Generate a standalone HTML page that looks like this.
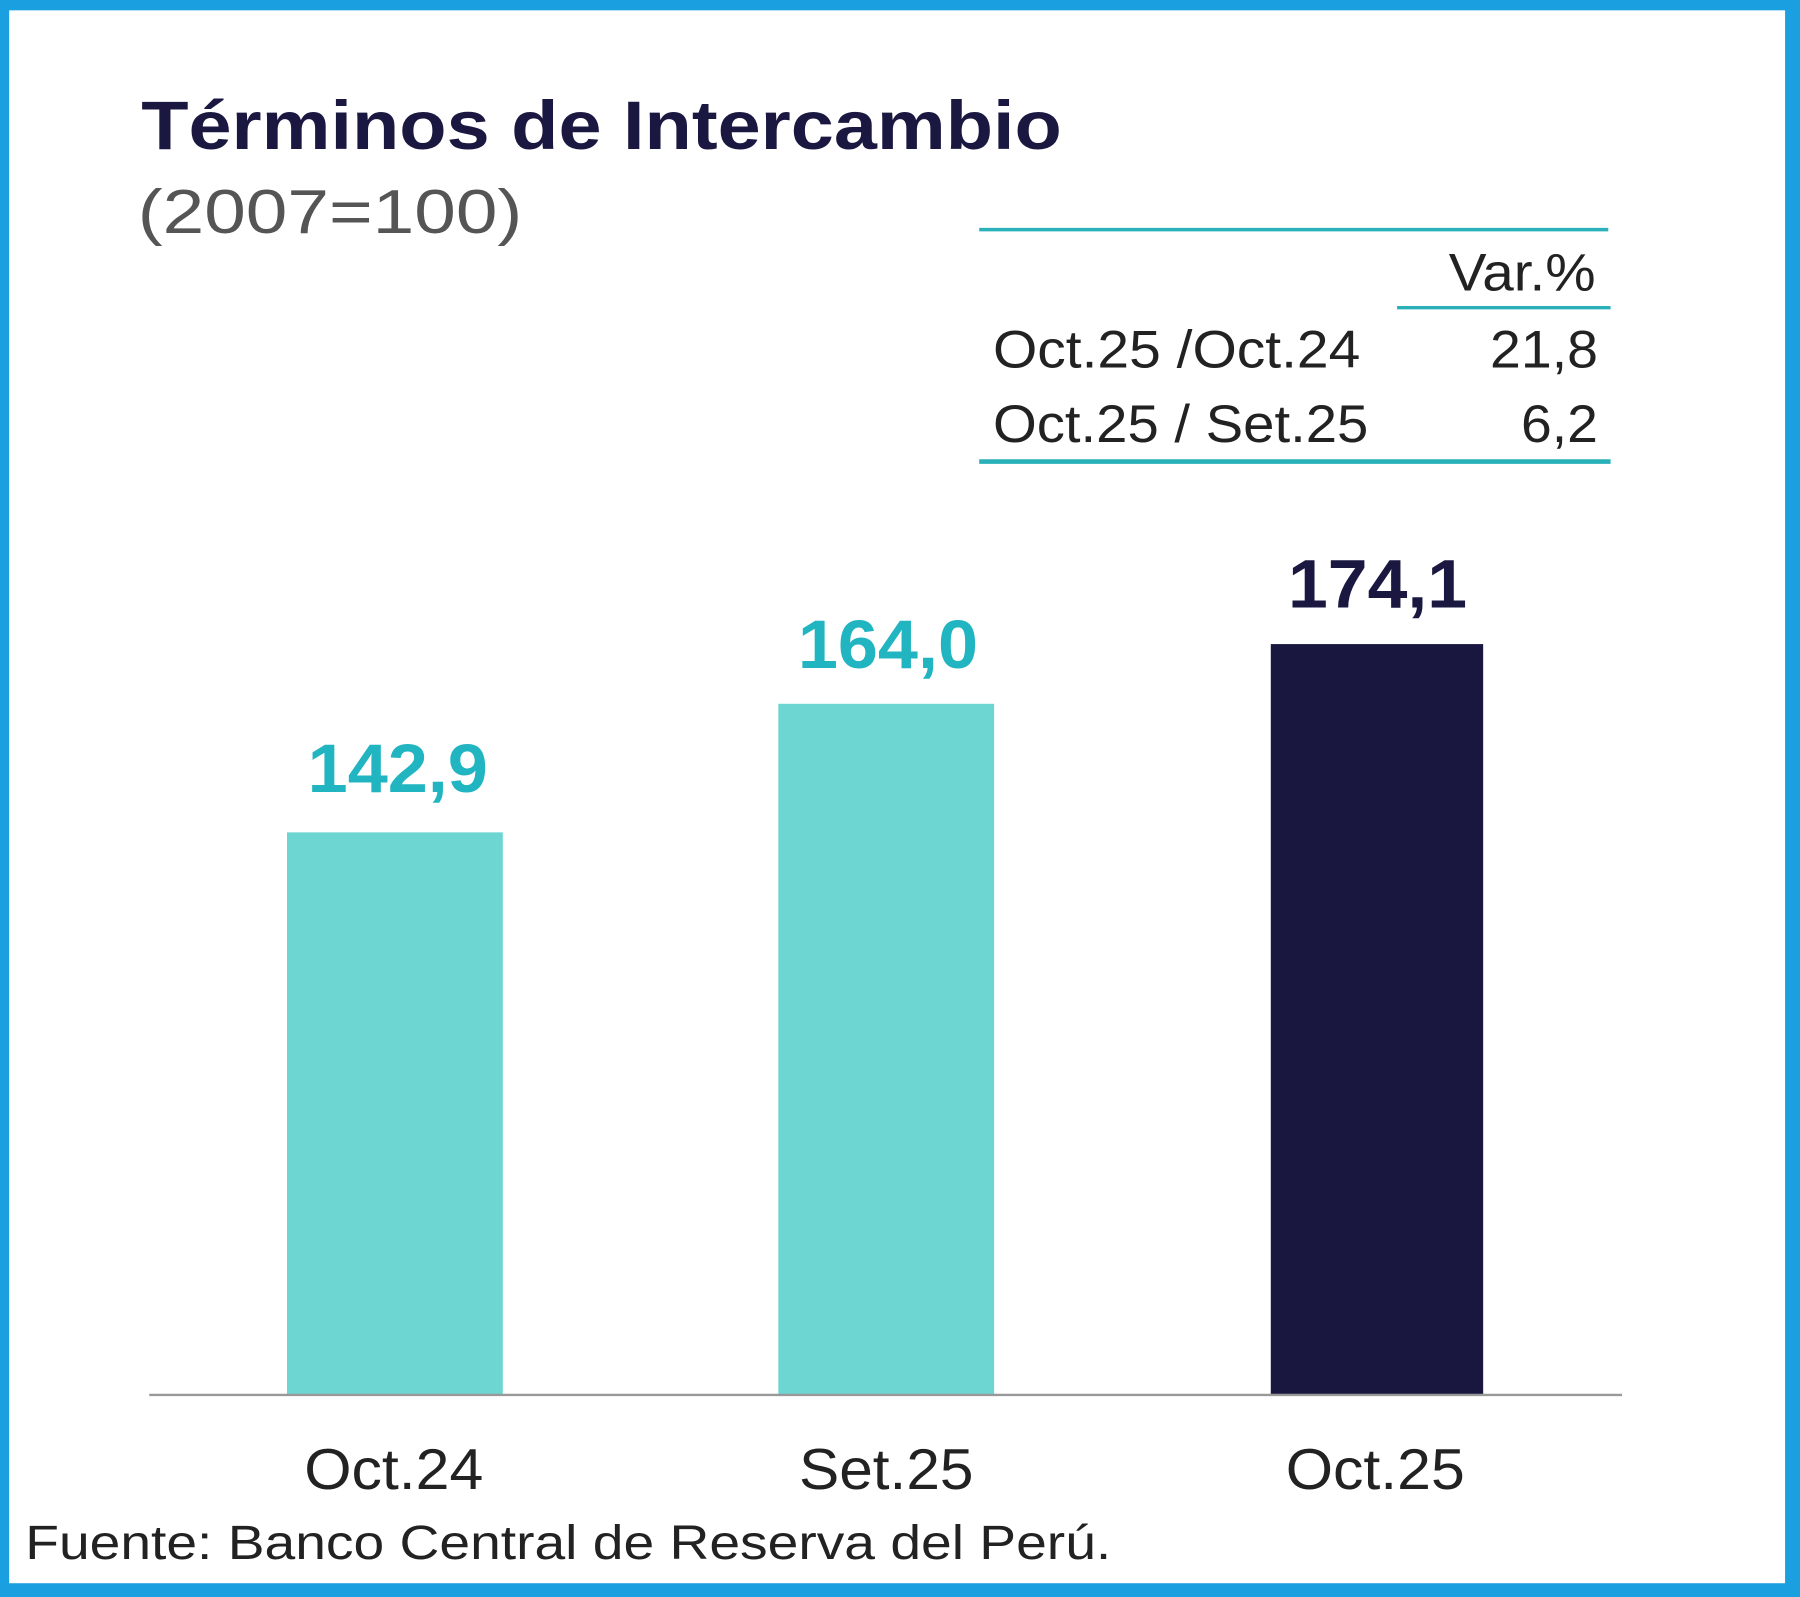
<!DOCTYPE html>
<html><head><meta charset="utf-8"><style>
html,body{margin:0;padding:0;background:#fff;}
svg{display:block;}
</style></head><body>
<svg width="1800" height="1597" viewBox="0 0 1568 1391" preserveAspectRatio="none" xmlns="http://www.w3.org/2000/svg">
<rect x="0" y="0" width="1568" height="1391" fill="#1a9fe0"/>
<rect x="8" y="9" width="1547" height="1370" fill="#ffffff"/>
<g font-family="Liberation Sans, Arial, sans-serif">
<text x="123" y="130" font-size="60" font-weight="bold" fill="#1a1840" textLength="802" lengthAdjust="spacingAndGlyphs">Términos de Intercambio</text>
<text x="120" y="203" font-size="54" fill="#555" textLength="335" lengthAdjust="spacingAndGlyphs">(2007=100)</text>
<line x1="853" y1="200" x2="1401" y2="200" stroke="#2ab0b8" stroke-width="3"/>
<text x="1262" y="253" font-size="46" fill="#222" textLength="128" lengthAdjust="spacingAndGlyphs">Var.%</text>
<line x1="1217" y1="268" x2="1403" y2="268" stroke="#2ab0b8" stroke-width="3"/>
<text x="865" y="320" font-size="46" fill="#222" textLength="320" lengthAdjust="spacingAndGlyphs">Oct.25 /Oct.24</text>
<text x="1298" y="320" font-size="46" fill="#222" textLength="94" lengthAdjust="spacingAndGlyphs">21,8</text>
<text x="865" y="385" font-size="46" fill="#222" textLength="327" lengthAdjust="spacingAndGlyphs">Oct.25 / Set.25</text>
<text x="1325" y="385" font-size="46" fill="#222" textLength="67" lengthAdjust="spacingAndGlyphs">6,2</text>
<line x1="853" y1="402" x2="1403" y2="402" stroke="#2ab0b8" stroke-width="4"/>
<rect x="250" y="725" width="188" height="490" fill="#6dd5d2"/>
<rect x="678" y="613" width="188" height="602" fill="#6dd5d2"/>
<rect x="1107" y="561" width="185" height="654" fill="#191740"/>
<line x1="130" y1="1215" x2="1413" y2="1215" stroke="#999" stroke-width="2"/>
<text x="268" y="690" font-size="60" font-weight="bold" fill="#20b5c0" textLength="157" lengthAdjust="spacingAndGlyphs">142,9</text>
<text x="695" y="582" font-size="60" font-weight="bold" fill="#20b5c0" textLength="157" lengthAdjust="spacingAndGlyphs">164,0</text>
<text x="1122" y="529" font-size="60" font-weight="bold" fill="#1a1840" textLength="156" lengthAdjust="spacingAndGlyphs">174,1</text>
<text x="343" y="1297" font-size="50" fill="#222" text-anchor="middle" textLength="156" lengthAdjust="spacingAndGlyphs">Oct.24</text>
<text x="772" y="1297" font-size="50" fill="#222" text-anchor="middle" textLength="152" lengthAdjust="spacingAndGlyphs">Set.25</text>
<text x="1198" y="1297" font-size="50" fill="#222" text-anchor="middle" textLength="156" lengthAdjust="spacingAndGlyphs">Oct.25</text>
<text x="22" y="1358" font-size="42" fill="#222" textLength="946" lengthAdjust="spacingAndGlyphs">Fuente: Banco Central de Reserva del Perú.</text>
</g>
</svg>
</body></html>
